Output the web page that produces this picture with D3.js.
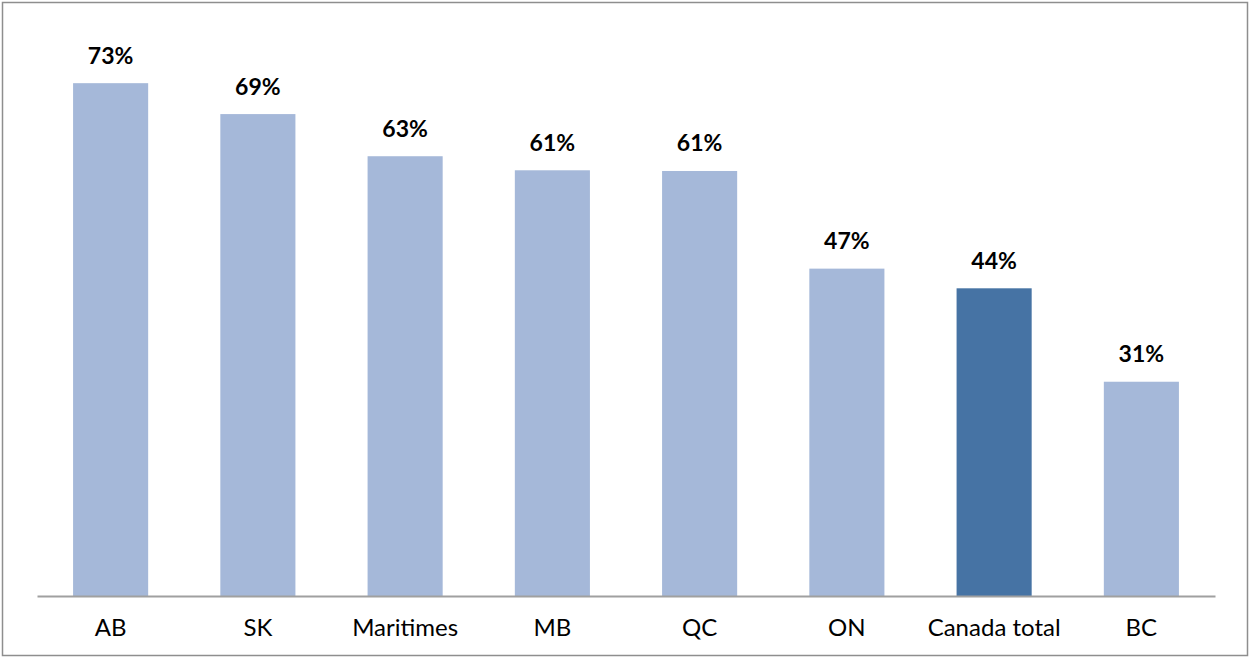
<!DOCTYPE html>
<html>
<head>
<meta charset="utf-8">
<script src="https://cdn.jsdelivr.net/npm/d3@7"></script>
<style>
  body { margin: 0; background: #fff; }
  svg { display: block; }
</style>
</head>
<body>
<div id="chart"></div>
<script>
let svgWidth = 1250;
let svgHeight = 658;

// Data ====================
let categories = ["AB", "SK", "Maritimes", "MB", "QC", "ON", "Canada total", "BC"];
let values = [73, 68.6, 62.6, 60.6, 60.5, 46.6, 43.8, 30.5];
let highlight = "Canada total";

let margin = { top: 34, left: 37, right: 35, bottom: 62 };
let width = svgWidth - margin.left - margin.right;
let height = svgHeight - margin.top - margin.bottom;

let svg = d3.select("#chart").append("svg")
  .attr("width", svgWidth)
  .attr("height", svgHeight);

// outer frame
svg.append("rect")
  .attr("x", 2.5).attr("y", 2.5)
  .attr("width", svgWidth - 5).attr("height", svgHeight - 5)
  .attr("fill", "none")
  .attr("stroke", "#8e8e8e")
  .attr("stroke-width", 1.5);

let chartGroup = svg.append("g").attr("transform", `translate(${margin.left}, ${margin.top})`);

let xScale = d3.scaleBand()
  .domain(categories)
  .range([0, width])
  .paddingInner(0.49)
  .paddingOuter(0.245);

let yScale = d3.scaleLinear()
  .domain([0, 80])
  .range([height, 0]);

let data = categories.map((c, i) => ({ cat: c, value: values[i] }));

chartGroup.selectAll("rect.bar")
  .data(data)
  .enter()
  .append("rect")
  .classed("bar", true)
  .attr("x", d => xScale(d.cat))
  .attr("y", d => yScale(d.value))
  .attr("width", xScale.bandwidth())
  .attr("height", d => height - yScale(d.value))
  .attr("fill", d => d.cat == highlight ? "#4673a4" : "#a5b8d9");

// baseline axis
let xAxis = chartGroup.append("g")
  .attr("transform", `translate(0, ${height})`)
  .call(d3.axisBottom(xScale).tickSize(0).tickPadding(23));

xAxis.select(".domain").attr("stroke", "#a0a0a0").attr("stroke-width", 2);
xAxis.selectAll("text")
  .attr("font-family", "Lato, 'Noto Sans', sans-serif")
  .attr("font-size", 24)
  .attr("fill", "#000");

// value labels
chartGroup.selectAll("text.val")
  .data(data)
  .enter()
  .append("text")
  .classed("val", true)
  .attr("x", d => xScale(d.cat) + xScale.bandwidth() / 2)
  .attr("y", d => yScale(d.value) - 19.5)
  .attr("text-anchor", "middle")
  .attr("font-family", "Lato, 'Noto Sans', sans-serif")
  .attr("font-weight", "bold")
  .attr("font-size", 23)
  .attr("fill", "#000")
  .text(d => Math.round(d.value) + "%");
</script>
</body>
</html>
